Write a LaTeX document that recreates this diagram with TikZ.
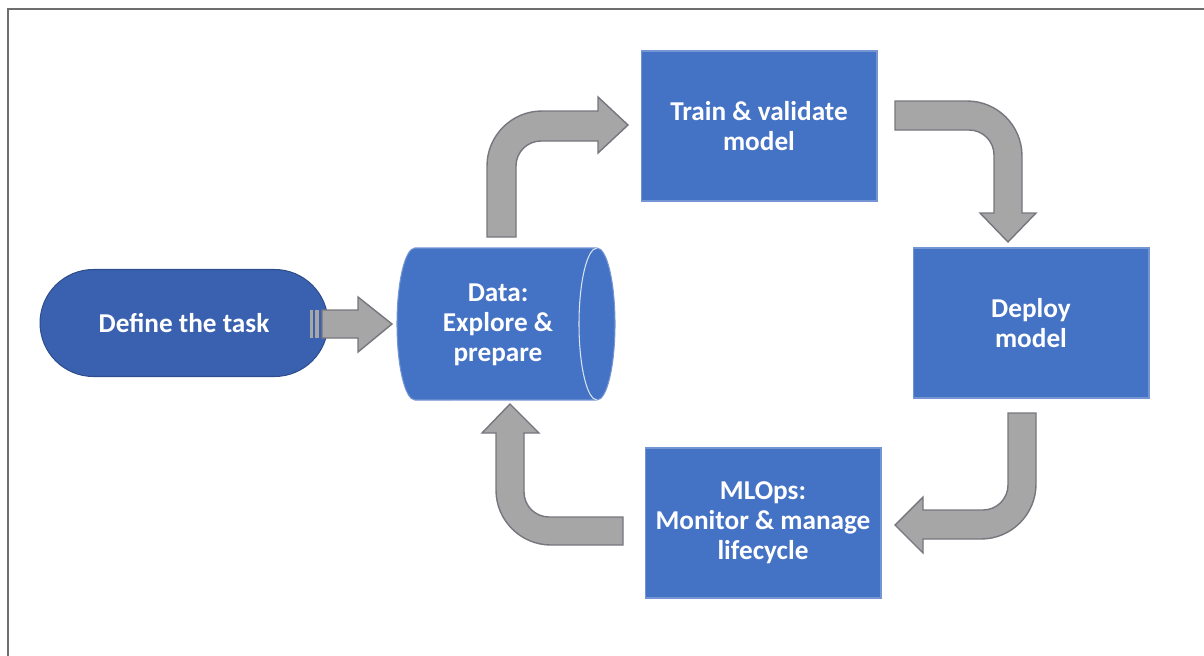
\documentclass[tikz,border=0pt]{standalone}
\usepackage{fontspec}
\setmainfont{Carlito}
\definecolor{main}{RGB}{68,114,196}
\definecolor{second}{RGB}{58,97,176}
\definecolor{third}{RGB}{166,166,166}
\definecolor{fourth}{RGB}{118,118,126}
\definecolor{fifth}{RGB}{110,110,110}
\usetikzlibrary{positioning}
\newcommand{\cstfont}{\fontsize{15.5}{17}\selectfont\bfseries}
\tikzset{
  % node
	cstbox/.style   ={fill=main,draw=main!75!white,text=white,line width=.6pt,
	                  minimum width=4.72cm,minimum height=3cm,align=center,font=\cstfont},
	cstterm/.style  ={fill=second,draw=second!80!black,text=white,line width=.6pt,
	                  minimum width=5.76cm,minimum height=2.14cm,rounded corners=1.07cm,font=\cstfont},
	csttext/.style  ={text=white,align=center,font=\cstfont},
  % shapes
	cstdata/.style  ={fill=main,draw=main!75!white,line width=.6pt},
	cstblock/.style ={fill=third,draw=fourth,line width=.8pt},
	cstframe/.style ={draw=fifth,line width=1.2pt}
}
\begin{document}
\begin{tikzpicture}[x=0.02cm,y=-0.02cm]
	\useasboundingbox (0,0) rectangle (1204,656);
	\draw[cstframe] (8,656)--(8,9)--(1204,9);
	% nodes
	\node[cstterm] (task) at (184,323) {Define the task};
	\draw[cstdata] (415,248)--(597,248) arc[start angle=90,end angle=-90,x radius=.36cm,y radius=1.52cm]
		--(415,400) arc[start angle=270,end angle=90,x radius=.36cm,y radius=1.52cm]--cycle;
	\draw[white!80!main,line width=.6pt] (597,248) arc[start angle=90,end angle=270,x radius=.36cm,y radius=1.52cm];
	\node[csttext] (data) at (498,325) {Data:\\Explore \&\\prepare};
	\node[cstbox] (train) at (759,126) {Train \& validate\\model};
	\node[cstbox] (deploy) at (1031,323) {Deploy\\model};
	\node[cstbox] (mlops) at (763,523) {MLOps:\\Monitor \& manage\\lifecycle};
	% block arrows
	\fill[third] (310,310) rectangle (313,338);
	\fill[third] (315,310) rectangle (319,338);
	\draw[cstblock] (322,310)--(358,310)--(358,297)--(392,324)--(358,352)--(358,338)--(322,338)--cycle;
	\draw[cstblock] (487,237) [rounded corners=1.1cm]--(487,111) [sharp corners]--(598,111)--(598,97)--(628,125)
		--(598,153)--(598,141) [rounded corners=.5cm]--(516,141) [sharp corners]--(516,237)--cycle;
	\draw[cstblock] (895,101) [rounded corners=1.1cm]--(1022,101) [sharp corners]--(1022,213)--(1036,213)--(1008,242)
		--(980,213)--(994,213) [rounded corners=.5cm]--(994,130) [sharp corners]--(895,130)--cycle;
	\draw[cstblock] (1036,413) [rounded corners=1.1cm]--(1036,539) [sharp corners]--(923,539)--(923,553)--(895,525)
		--(923,497)--(923,510) [rounded corners=.5cm]--(1008,510) [sharp corners]--(1008,413)--cycle;
	\draw[cstblock] (623,545) [rounded corners=1.1cm]--(496,545) [sharp corners]--(496,433)--(482,433)--(510,404)
		--(539,433)--(524,433) [rounded corners=.5cm]--(524,517) [sharp corners]--(623,517)--cycle;
\end{tikzpicture}
\end{document}
